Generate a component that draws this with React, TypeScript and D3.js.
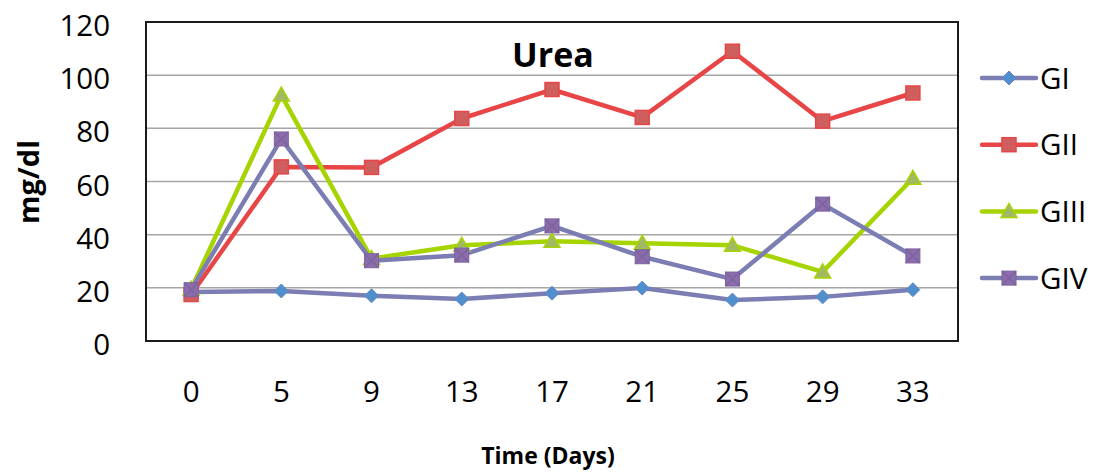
import React from "react";
import * as d3 from "d3";

const days = ["0", "5", "9", "13", "17", "21", "25", "29", "33"];
const gI = [18.4, 18.8, 17, 15.8, 18, 19.9, 15.4, 16.6, 19.3];
const gII = [17.5, 65.5, 65.3, 83.7, 94.6, 84.1, 109, 82.7, 93.3];
const gIII = [19.5, 92.5, 31, 36, 37.5, 36.8, 36, 26, 61.2];
const gIV = [19.3, 76, 30.2, 32.3, 43.3, 31.7, 23.3, 51.5, 32];
const yTicks = [0, 20, 40, 60, 80, 100, 120];

const series = [
  { name: "GI", values: gI, line: "#7b7db3", fill: "#4f8fcd", stroke: "#6a86c0", shape: "diamond" },
  { name: "GII", values: gII, line: "#e84646", fill: "#cf5f5f", stroke: "#e84646", shape: "square" },
  { name: "GIII", values: gIII, line: "#a6d400", fill: "#a1b865", stroke: "#a6d400", shape: "triangle" },
  { name: "GIV", values: gIV, line: "#7b7db3", fill: "#8c6cab", stroke: "#7b62a0", shape: "xsquare" },
];

const FONT = "'Open Sans', 'Noto Sans', sans-serif";

function Marker({ shape, x, y, fill, stroke }: any) {
  if (shape === "diamond") {
    const r = 7;
    return (
      <path d={`M${x},${y - r}L${x + r},${y}L${x},${y + r}L${x - r},${y}Z`} fill={fill} stroke={stroke} strokeWidth={1} />
    );
  }
  if (shape === "square") {
    const r = 7;
    return <rect x={x - r} y={y - r} width={2 * r} height={2 * r} fill={fill} stroke={stroke} strokeWidth={1.5} />;
  }
  if (shape === "triangle") {
    const r = 8;
    return (
      <path d={`M${x},${y - r}L${x + r},${y + r * 0.75}L${x - r},${y + r * 0.75}Z`} fill={fill} stroke={stroke} strokeWidth={1.5} />
    );
  }
  const r = 7;
  return (
    <g>
      <rect x={x - r} y={y - r} width={2 * r} height={2 * r} fill={fill} stroke={stroke} strokeWidth={1} />
      <path d={`M${x - r},${y - r}L${x + r},${y + r}M${x + r},${y - r}L${x - r},${y + r}`} stroke="#7a64a0" strokeWidth={1.5} />
    </g>
  );
}

export default function App() {
  const width = 1095;
  const height = 472;
  const left = 146;
  const right = 958;
  const top = 22;
  const bottom = 341;

  const x = d3.scaleBand().domain(days).range([left, right]).padding(0);
  const y = d3.scaleLinear().domain([0, 120]).range([bottom, top]);
  const cx = (d: string) => (x(d) as number) + x.bandwidth() / 2;

  const line = d3
    .line<number>()
    .x((_, i) => cx(days[i]))
    .y((v) => y(v));

  return (
    <svg width={width} height={height} style={{ position: "absolute", left: 0, top: 0, background: "#fff" }}>
      {yTicks.slice(1, -1).map((t) => (
        <line key={t} x1={left} x2={right} y1={y(t)} y2={y(t)} stroke="#a6a6a6" strokeWidth={1.5} />
      ))}
      <rect x={left} y={top} width={right - left} height={bottom - top} fill="none" stroke="#1a1a1a" strokeWidth={2} />

      {yTicks.map((t) => (
        <text key={t} x={110} y={y(t)} dy="0.48em" textAnchor="end" fontFamily={FONT} fontSize={29.5} fill="#000">
          {t}
        </text>
      ))}
      {days.map((d) => (
        <text key={d} x={cx(d)} y={402} textAnchor="middle" fontFamily={FONT} fontSize={29.5} fill="#000">
          {d}
        </text>
      ))}

      <text x={553} y={67} textAnchor="middle" fontFamily={FONT} fontSize={34} fontWeight="bold" fill="#000">
        Urea
      </text>
      <text
        transform="translate(39,182) rotate(-90)"
        textAnchor="middle"
        fontFamily={FONT}
        fontSize={29}
        fontWeight="bold"
        fill="#000"
      >
        mg/dl
      </text>
      <text x={548} y={464} textAnchor="middle" fontFamily={FONT} fontSize={23} fontWeight="bold" fill="#000">
        Time (Days)
      </text>

      {series.map((s) => (
        <path key={s.name} d={line(s.values) || ""} fill="none" stroke={s.line} strokeWidth={4.5} strokeLinejoin="round" />
      ))}
      {series.map((s) => (
        <g key={s.name + "m"}>
          {s.values.map((v, i) => (
            <Marker key={i} shape={s.shape} x={cx(days[i])} y={y(v)} fill={s.fill} stroke={s.stroke} />
          ))}
        </g>
      ))}

      {series.map((s, i) => {
        const ly = 78 + i * 66.7;
        return (
          <g key={s.name + "l"}>
            <line x1={982} x2={1036} y1={ly} y2={ly} stroke={s.line} strokeWidth={4.5} strokeLinecap="round" />
            <Marker shape={s.shape} x={1009} y={ly} fill={s.fill} stroke={s.stroke} />
            <text x={1040} y={ly} dy="0.36em" fontFamily={FONT} fontSize={29.5} fill="#000">
              {s.name}
            </text>
          </g>
        );
      })}
    </svg>
  );
}
